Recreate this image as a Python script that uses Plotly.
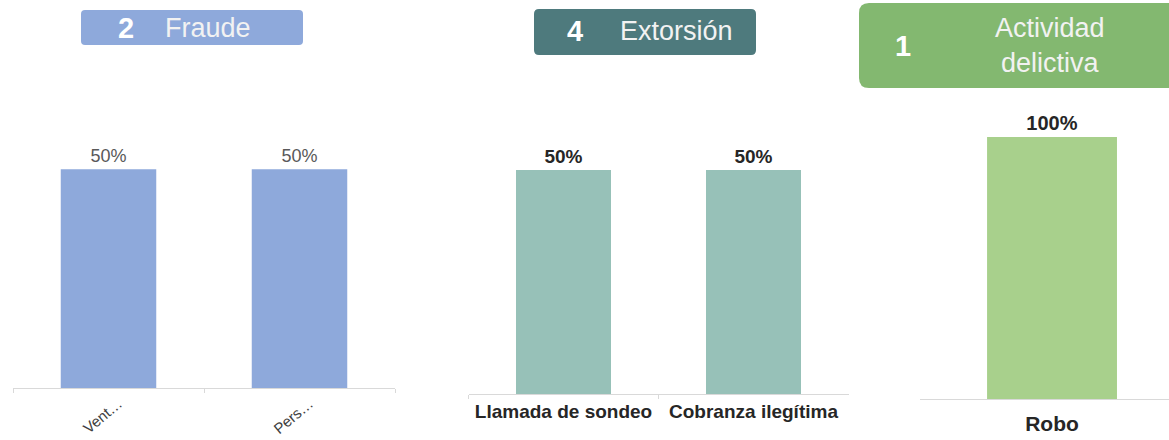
import plotly.graph_objects as go

W, H = 1169, 440

# Data
fraude_cats = ["Vent…", "Pers…"]
fraude_vals = [0.5, 0.5]
extorsion_cats = ["Llamada de sondeo", "Cobranza ilegítima"]
extorsion_vals = [0.5, 0.5]
actividad_cats = ["Robo"]
actividad_vals = [1.0]

FONT = "Arial, Liberation Sans, sans-serif"


def px_x(x):
    return x / W


def px_y(y):
    return 1 - y / H


def rounded_box(x0, y0, x1, y1, r):
    """SVG path (paper coords) for a rounded rectangle given in pixels."""
    pts = [
        f"M {px_x(x0 + r)},{px_y(y0)}",
        f"L {px_x(x1 - r)},{px_y(y0)}",
        f"Q {px_x(x1)},{px_y(y0)} {px_x(x1)},{px_y(y0 + r)}",
        f"L {px_x(x1)},{px_y(y1 - r)}",
        f"Q {px_x(x1)},{px_y(y1)} {px_x(x1 - r)},{px_y(y1)}",
        f"L {px_x(x0 + r)},{px_y(y1)}",
        f"Q {px_x(x0)},{px_y(y1)} {px_x(x0)},{px_y(y1 - r)}",
        f"L {px_x(x0)},{px_y(y0 + r)}",
        f"Q {px_x(x0)},{px_y(y0)} {px_x(x0 + r)},{px_y(y0)}",
        "Z",
    ]
    return " ".join(pts)


fig = go.Figure()

fig.add_trace(go.Bar(
    x=fraude_cats, y=fraude_vals, xaxis="x", yaxis="y",
    marker=dict(color="#8EA9DB", line=dict(width=0)), width=0.5,
    text=[f"{v:.0%}" for v in fraude_vals], textposition="outside",
    textfont=dict(family=FONT, size=18, color="#595959"),
    cliponaxis=False, hoverinfo="skip",
))
fig.add_trace(go.Bar(
    x=extorsion_cats, y=extorsion_vals, xaxis="x2", yaxis="y2",
    marker=dict(color="#97C1B8", line=dict(width=0)), width=0.5,
    text=[f"<b>{v:.0%}</b>" for v in extorsion_vals], textposition="outside",
    textfont=dict(family=FONT, size=19, color="#262626"),
    cliponaxis=False, hoverinfo="skip",
))
fig.add_trace(go.Bar(
    x=actividad_cats, y=actividad_vals, xaxis="x3", yaxis="y3",
    marker=dict(color="#A8D08C", line=dict(width=0)), width=0.492,
    text=[f"<b>{v:.0%}</b>" for v in actividad_vals], textposition="outside",
    textfont=dict(family=FONT, size=20, color="#262626"),
    cliponaxis=False, hoverinfo="skip",
))

axis_common = dict(
    showgrid=False, zeroline=False, showline=True, linecolor="#D9D9D9",
    linewidth=1, fixedrange=True, automargin=False,
)
yaxis_common = dict(showgrid=False, zeroline=False, showline=False,
                    showticklabels=False, fixedrange=True, automargin=False)

fig.update_layout(
    width=W, height=H,
    margin=dict(l=0, r=0, t=0, b=0),
    paper_bgcolor="white", plot_bgcolor="white",
    showlegend=False, bargap=0.5,
    xaxis=dict(axis_common, domain=[px_x(13), px_x(395)], anchor="y",
               range=[-0.5, 1.5], tickangle=-40, ticks="outside",
               tickson="boundaries", ticklen=4, tickcolor="#D9D9D9",
               ticklabelstandoff=0, ticklabelshift=10,
               tickfont=dict(family=FONT, size=15, color="#404040")),
    yaxis=dict(yaxis_common, domain=[52 / H, 1 - 125.6 / H], anchor="x",
               range=[0, 0.6]),
    xaxis2=dict(axis_common, domain=[px_x(468.5), px_x(848.5)], anchor="y2",
                range=[-0.5, 1.5], ticks="outside", tickson="boundaries",
                ticklen=4, tickcolor="#D9D9D9",
                tickfont=dict(family=FONT, size=19, color="#262626"),
                ticktext=[f"<b>{c}</b>" for c in extorsion_cats],
                tickvals=extorsion_cats),
    yaxis2=dict(yaxis_common, domain=[46 / H, 1 - 125.2 / H], anchor="x2",
                range=[0, 0.6]),
    xaxis3=dict(axis_common, domain=[px_x(920), 1], anchor="y3",
                range=[-0.5, 0.443], ticks="", ticklabelstandoff=6,
                tickfont=dict(family=FONT, size=21, color="#262626"),
                ticktext=[f"<b>{c}</b>" for c in actividad_cats],
                tickvals=actividad_cats),
    yaxis3=dict(yaxis_common, domain=[41 / H, 1 - 110.9 / H], anchor="x3",
                range=[0, 1.1]),
)

# Section header boxes
headers = [
    dict(box=(81, 10, 303, 45), r=4, color="#8EA9DB",
         num="2", num_x=126, title="Fraude", title_x=208, y=28),
    dict(box=(534, 9, 756, 55), r=5, color="#4E7A7D",
         num="4", num_x=575, title="Extorsión", title_x=676, y=31),
    dict(box=(859, 3, 1185, 88), r=10, color="#83B870",
         num="1", num_x=903, title="Actividad<br>delictiva", title_x=1050,
         y=46),
]
shapes = []
annotations = []
for h in headers:
    x0, y0, x1, y1 = h["box"]
    shapes.append(dict(type="path", xref="paper", yref="paper",
                       path=rounded_box(x0, y0, x1, y1, h["r"]),
                       fillcolor=h["color"], line=dict(width=0), layer="below"))
    annotations.append(dict(xref="paper", yref="paper", x=px_x(h["num_x"]),
                            y=px_y(h["y"]), text=f"<b>{h['num']}</b>",
                            showarrow=False, xanchor="center", yanchor="middle",
                            font=dict(family=FONT, size=29, color="white")))
    annotations.append(dict(xref="paper", yref="paper", x=px_x(h["title_x"]),
                            y=px_y(h["y"]), text=h["title"],
                            showarrow=False, xanchor="center", yanchor="middle",
                            font=dict(family=FONT, size=27, color="#F2F2F2")))

fig.update_layout(shapes=shapes, annotations=annotations)

fig.write_html("out.html")
